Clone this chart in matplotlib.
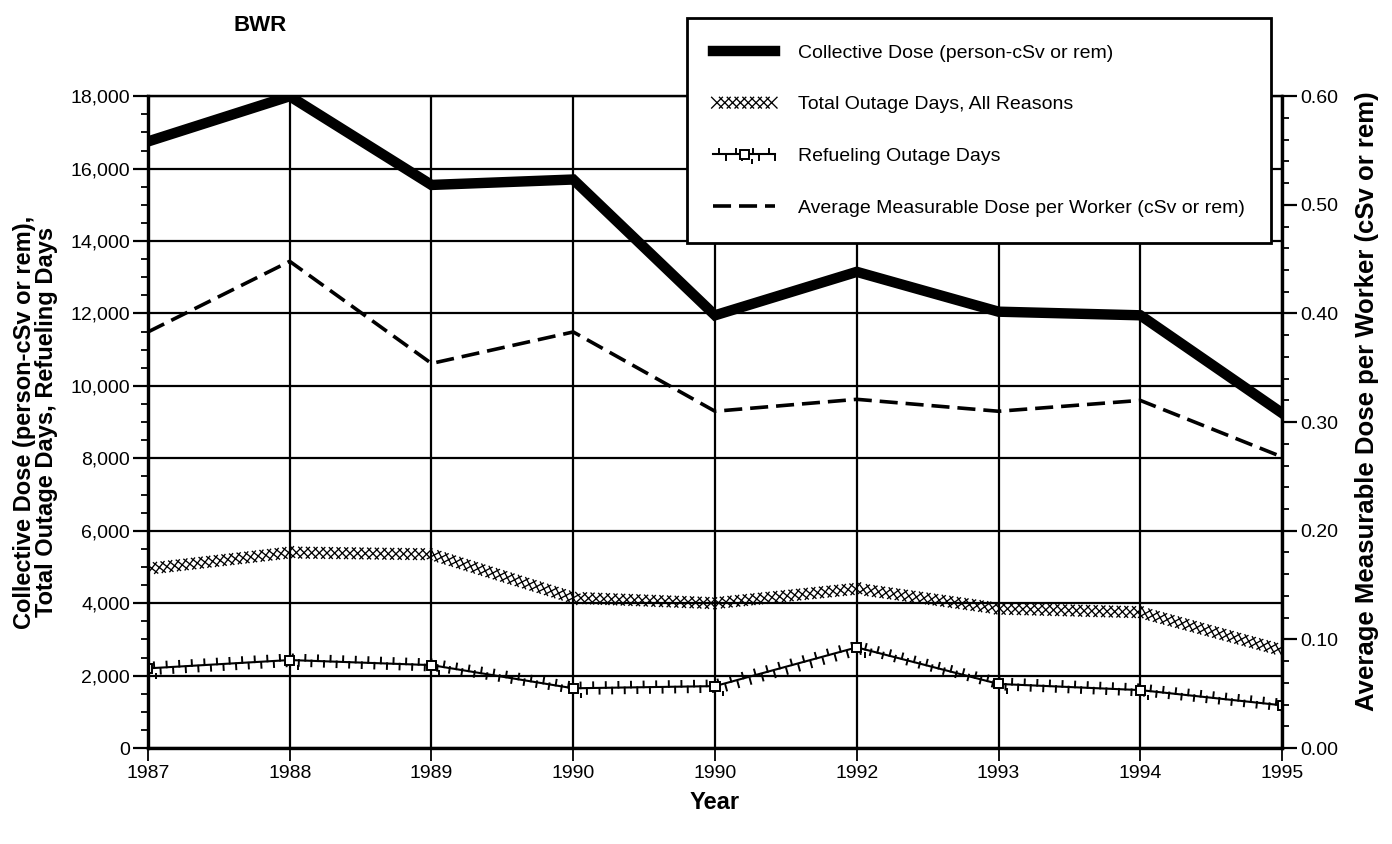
import numpy as np
import matplotlib
matplotlib.use("Agg")
import matplotlib.pyplot as plt
from matplotlib import patheffects as pe
from matplotlib.ticker import MultipleLocator, FuncFormatter

plt.rcParams['font.family'] = ['Liberation Sans', 'DejaVu Sans']

# data (x labels as printed, including the repeated 1990)
years = ["1987", "1988", "1989", "1990", "1990", "1992", "1993", "1994", "1995"]
collective_dose = [16750, 18000, 15550, 15700, 11950, 13150, 12050, 11950, 9250]
total_outage = [4950, 5400, 5350, 4150, 4000, 4400, 3850, 3750, 2700]
refuel_outage = [2200, 2430, 2290, 1650, 1710, 2780, 1770, 1600, 1180]
avg_dose = [0.383, 0.448, 0.354, 0.383, 0.310, 0.321, 0.310, 0.320, 0.268]

x = np.arange(len(years))

fig = plt.figure(figsize=(13.92, 8.44), dpi=100)
ax = fig.add_axes([0.1063, 0.1137, 0.8147, 0.7723])
ax2 = ax.twinx()

# axes, ticks, grid
ax.set_xlim(0, len(years) - 1)
ax.set_ylim(0, 18000)
ax2.set_ylim(0, 0.6)
ax.set_xticks(x)
ax.set_xticklabels(years)
ax.yaxis.set_major_locator(MultipleLocator(2000))
ax.yaxis.set_minor_locator(MultipleLocator(500))
ax.yaxis.set_major_formatter(FuncFormatter(lambda v, p: f"{int(v):,}"))
ax2.yaxis.set_major_locator(MultipleLocator(0.1))
ax2.yaxis.set_minor_locator(MultipleLocator(0.02))
ax2.yaxis.set_major_formatter(FuncFormatter(lambda v, p: f"{v:.2f}"))
ax.grid(True, which='major', color='black', linewidth=1.6)
ax.set_axisbelow(True)

for a in (ax, ax2):
    for s in ['left', 'right', 'bottom']:
        a.spines[s].set_linewidth(2.3)
    a.spines['top'].set_linewidth(1.6)

ax.tick_params(axis='y', which='major', length=11, width=1.6, labelsize=14, pad=2)
ax.tick_params(axis='y', which='minor', length=5, width=1.3)
ax.tick_params(axis='x', which='major', length=9, width=1.3, labelsize=14, pad=3)
ax2.tick_params(axis='y', which='major', length=11, width=1.6, labelsize=14, pad=2)
ax2.tick_params(axis='y', which='minor', length=5, width=1.3)

# series
ax.plot(x, collective_dose, color='black', linewidth=7.5, solid_joinstyle='miter',
        label='Collective Dose (person-cSv or rem)', zorder=5)

xx_fx = [pe.TickedStroke(angle=a, spacing=5.5, length=1.0, linewidth=0.95)
         for a in (45, -135, 135, -45)]
ax.plot(x, total_outage, color='black', linewidth=1.0, path_effects=xx_fx,
        label='Total Outage Days, All Reasons', zorder=4)

rf_fx = [pe.TickedStroke(angle=90, spacing=9, length=0.45, linewidth=1.4),
         pe.TickedStroke(offset=(4.5, 0), angle=-90, spacing=9, length=0.45, linewidth=1.4),
         pe.Normal()]
ax.plot(x, refuel_outage, color='black', linewidth=1.5, path_effects=rf_fx,
        marker='s', markersize=6.5, markerfacecolor='white', markeredgewidth=1.4,
        label='Refueling Outage Days', zorder=4)

ax2.plot(x, avg_dose, color='black', linewidth=2.6, linestyle=(0, (5, 2.2)),
         label='Average Measurable Dose per Worker (cSv or rem)', zorder=4)

# labels
ax.set_ylabel("Collective Dose (person-cSv or rem),\nTotal Outage Days, Refueling Days",
              fontsize=17, fontweight='bold', labelpad=9, linespacing=0.9)
ax2.set_ylabel("Average Measurable Dose per Worker (cSv or rem)",
               fontsize=18.5, fontweight='bold', labelpad=12)
ax2.yaxis.label.set_y(0.532)
ax.set_xlabel("Year", fontsize=17, fontweight='bold', labelpad=7)
fig.text(0.1675, 0.97, "BWR", fontsize=16, fontweight='bold', va='center', ha='left')

# legend
handles = [ax.get_lines()[0], ax.get_lines()[1], ax.get_lines()[2], ax2.get_lines()[0]]
leg = fig.legend(handles=handles, loc='upper left', bbox_to_anchor=(0.4935, 0.9787),
                 borderaxespad=0, fontsize=14, frameon=True, fancybox=False,
                 edgecolor='black', framealpha=1, borderpad=1.35, labelspacing=1.75,
                 handlelength=3.2, handletextpad=1.14)
leg.get_frame().set_linewidth(2.0)
leg.set_zorder(10)

fig.savefig("out.png", dpi=100)
